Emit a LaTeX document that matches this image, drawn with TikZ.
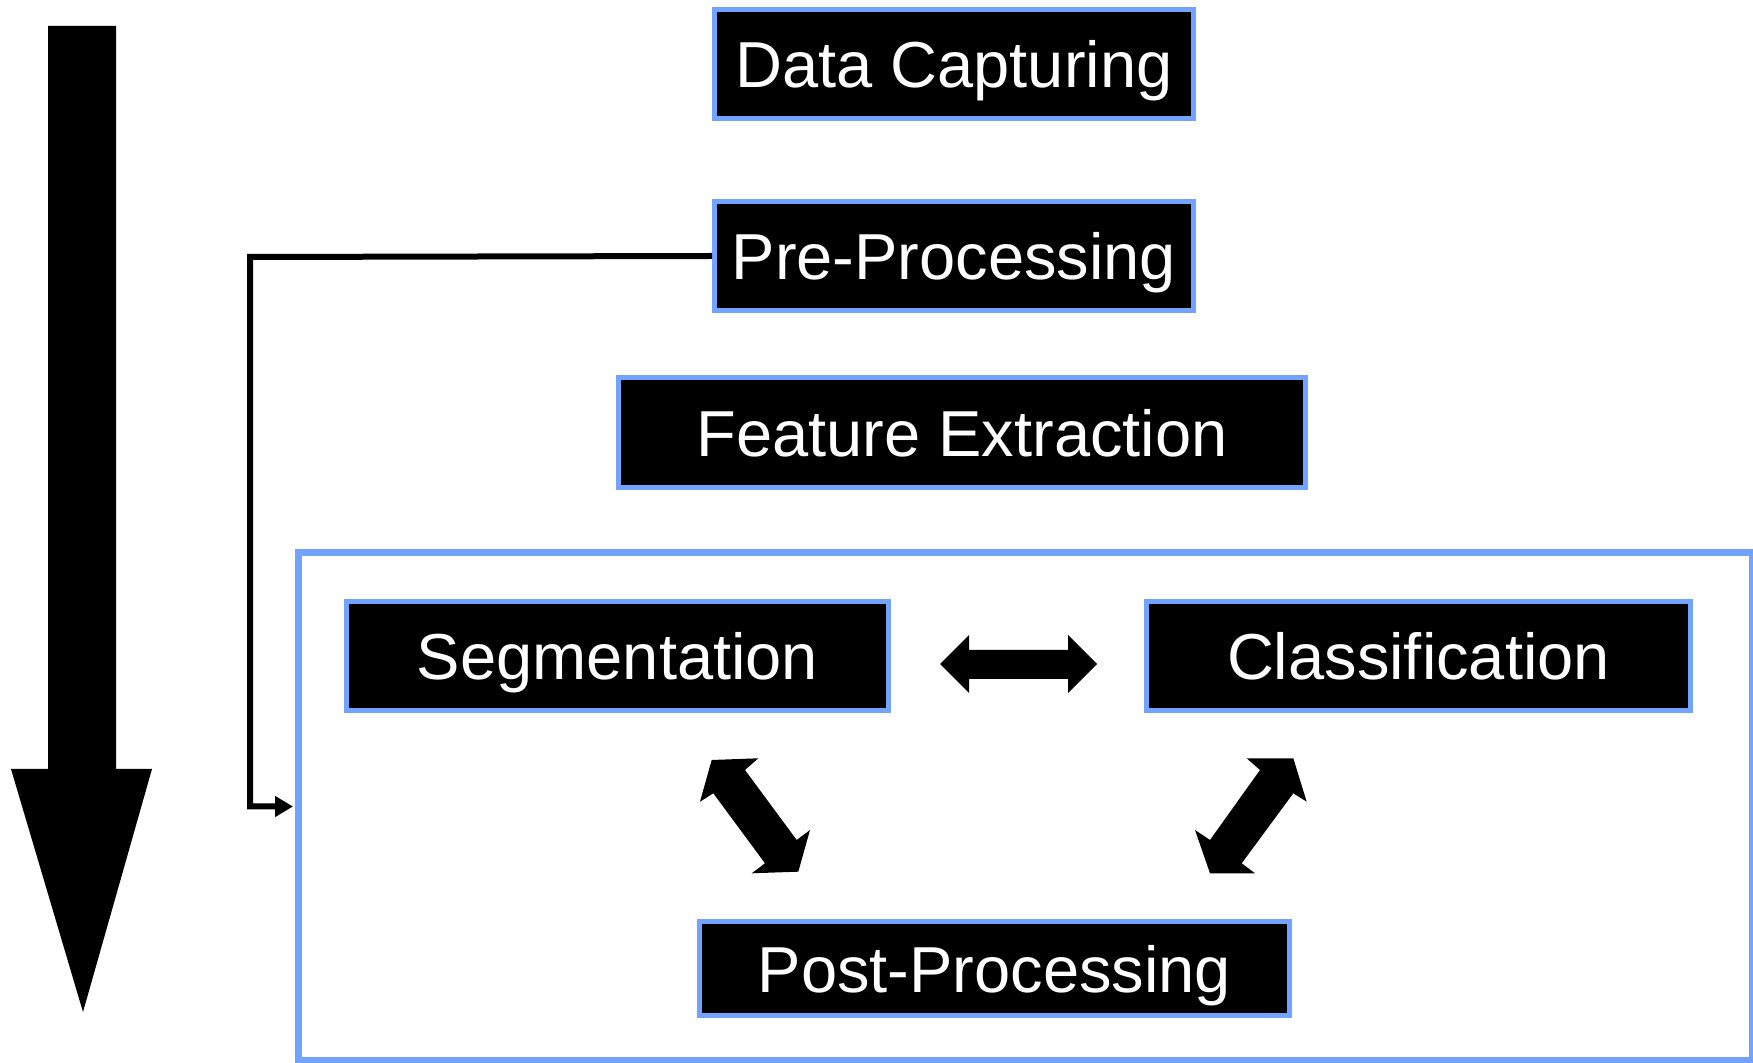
\documentclass[tikz,border=0pt]{standalone}
\usepackage{fontspec}
\setmainfont{Liberation Sans}
\usetikzlibrary{arrows.meta}
\definecolor{frameblue}{RGB}{115,163,255}
\tikzset{
  stage/.style={draw=frameblue, fill=black, line width=2.5pt, text=white,
    font=\fontsize{32.5}{39}\selectfont, text height=24pt, text depth=0pt,
    inner sep=0pt, minimum height=54.5pt},
  group/.style={draw=frameblue, line width=3.5pt, fill=white, inner sep=0pt},
  feed/.style={line width=3pt, -{Triangle[length=9pt,width=10pt]}},
  blockarrow/.style={fill=black}
}
\begin{document}
\begin{tikzpicture}[x=0.5pt,y=-0.5pt]
  \useasboundingbox (0,0) rectangle (1753,1063);
  \fill[white] (0,0) rectangle (1753,1063);

  % overall flow direction
  \fill[blockarrow] (48,26) -- (116,26) -- (116,769) -- (152,769) -- (83,1012)
    -- (11,769) -- (48,769) -- cycle;

  % group holding the recognition stages
  \node[group, minimum width=727pt, minimum height=254pt] (cont) at (1025.5,806.5) {};

  % pipeline stages
  \node[stage, minimum width=239.5pt] (data) at (954,64) {Data Capturing};
  \node[stage, minimum width=239.5pt] (pre) at (954,256) {Pre-Processing};
  \node[stage, minimum width=343.5pt, minimum height=55pt] (feat) at (962,432.5) {Feature Extraction};
  \node[stage, minimum width=271pt] (seg) at (617.5,656) {Segmentation};
  \node[stage, minimum width=272pt] (cls) at (1418.5,656) {Classification};
  \node[stage, minimum width=295pt, minimum height=47pt] (post) at (994.5,968.5) {Post-Processing};

  % pre-processing feeds the group
  \coordinate (bend) at (250,257);
  \draw[feed] (pre.west) -- (bend) |- ([xshift=-1pt]cont.west);

  % segmentation <-> classification
  \fill[blockarrow] (940,664) -- (969,635) -- (969,650) -- (1068,650) -- (1068,635)
    -- (1097,664) -- (1068,693) -- (1068,679) -- (969,679) -- (969,693) -- cycle;

  % segmentation <-> post-processing
  \fill[blockarrow] (711.7,760) -- (758.3,758.3) -- (745,770) -- (796.7,840)
    -- (810,830) -- (798.3,871.7) -- (751.7,873.3) -- (765,863.3)
    -- (713.3,793.3) -- (700,801.7) -- cycle;

  % classification <-> post-processing
  \fill[blockarrow] (1246.7,758.3) -- (1293.3,758.3) -- (1306.7,801.7)
    -- (1293.3,793.3) -- (1241.7,863.3) -- (1255,873.3) -- (1210,873.3)
    -- (1195,830) -- (1210,840) -- (1260,770) -- cycle;
\end{tikzpicture}
\end{document}
